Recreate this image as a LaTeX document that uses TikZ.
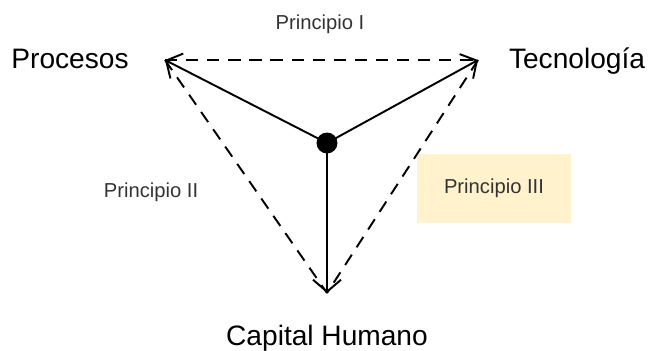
\documentclass[tikz,border=0pt]{standalone}
\usepackage{fontspec}
\setmainfont{Liberation Sans}
\usetikzlibrary{arrows.meta}

\definecolor{boxfill}{HTML}{FFF2CC}

\begin{document}
\begin{tikzpicture}[
  big/.style={font=\fontsize{16}{19}\selectfont, anchor=base, inner sep=0pt},
  lbl/.style={font=\fontsize{11.5}{14}\selectfont, text=black!80, anchor=base, inner sep=0pt},
  dsh/.style={line width=1.1pt, dash pattern=on 7pt off 5pt},
  arr/.style={-{Straight Barb[length=2.4mm, width=5.6mm, line width=1.1pt]}, line width=1.1pt}
]
\useasboundingbox (0,0) rectangle (13.12,7);
% corners of the triangle
\coordinate (proc) at (3.30,5.80);
\coordinate (tec) at (9.56,5.80);
\coordinate (cap) at (6.54,1.14);
\node[circle, fill=black, inner sep=0pt, minimum size=4.2mm] (ctr) at (6.54,4.14) {};
% texts
\node[big] (tproc) at (1.40,5.64) {Procesos};
\node[big] (ttec) at (11.54,5.64) {Tecnología};
\node[big] (tcap) at (6.54,0.10) {Capital Humano};
\node[lbl] (p1) at (6.40,6.41) {Principio I};
\node[lbl] (p2) at (3.02,3.06) {Principio II};
\node[fill=boxfill, minimum width=3.08cm, minimum height=1.38cm, text=black!80,
  font=\fontsize{11.5}{14}\selectfont] (p3) at (9.88,3.23) {Principio III};
% dashed sides
\draw[dsh] (proc) -- (tec);
\draw[dsh] (proc) -- (cap);
\draw[dsh] (tec) -- (cap);
% arrows from the centre
\foreach \t in {proc,tec,cap} \draw[arr] (ctr.center) -- (\t);
\end{tikzpicture}
\end{document}
